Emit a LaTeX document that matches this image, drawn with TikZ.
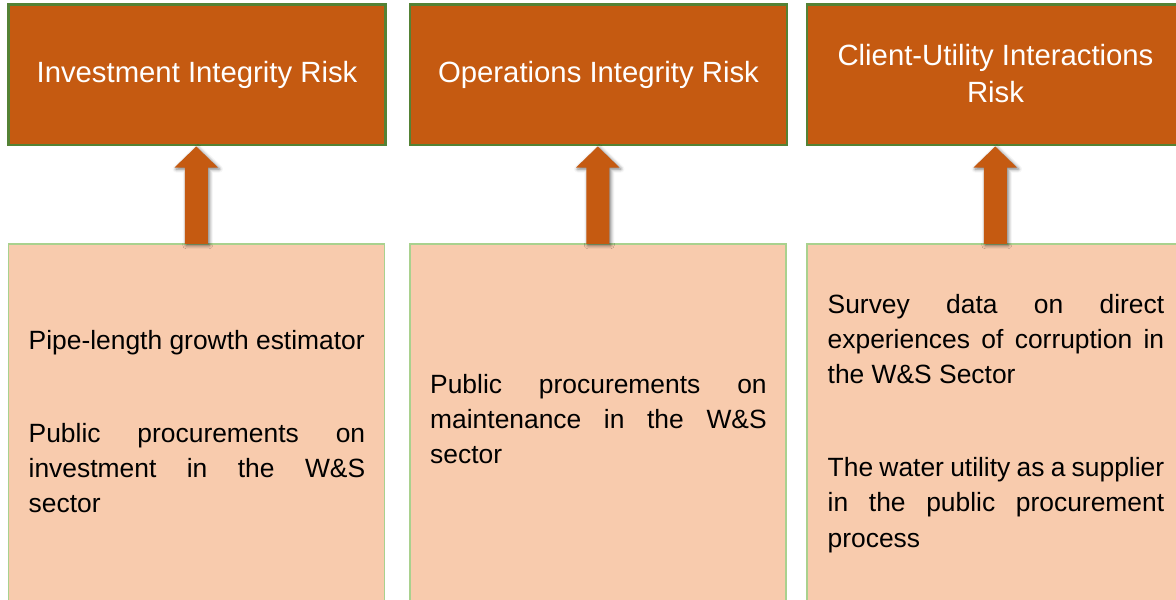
\documentclass[tikz,border=0pt]{standalone}
\usepackage{fontspec}
\setmainfont{Liberation Sans}
\usetikzlibrary{calc,shadows.blur}
\definecolor{riskorange}{HTML}{C55A11}
\definecolor{riskedge}{HTML}{548235}
\definecolor{srcfill}{HTML}{F8CBAD}
\definecolor{srcedge}{HTML}{A9D18E}
\setlength{\parindent}{0pt}
\hyphenpenalty=10000
\exhyphenpenalty=10000

\tikzset{
  riskbox/.style={draw=riskedge, line width=2.5pt, fill=riskorange,
    minimum width=377pt, minimum height=140.5pt, anchor=north west,
    inner sep=0pt, outer sep=0pt, text=white, align=center,
    font=\fontsize{29.3}{37}\selectfont},
  srcbox/.style={draw=srcedge, line width=1.5pt, fill=srcfill,
    minimum width=376pt, minimum height=400pt, anchor=north west,
    inner sep=0pt, outer sep=0pt},
  srctext/.style={text=black, font=\fontsize{26.4}{35.2}\selectfont,
    text width=336.5pt, align=justify, anchor=north west, inner sep=0pt},
  uparrow/.style={fill=riskorange,
    blur shadow={shadow xshift=1.5pt, shadow yshift=-1.5pt,
      shadow blur radius=3.5pt, shadow opacity=55}}
}

% block arrow from a source box up to its risk box
\newcommand\riskarrow[2]{%
  \path[uparrow] let \p1=(#1.north), \p2=(#2.south) in
    (\x1-11.5pt,\y1) -- (\x1-11.5pt,\y2-22.5pt) -- (\x1-21.7pt,\y2-22.5pt)
    -- (\x1,\y2-1.5pt) -- (\x1+21.7pt,\y2-22.5pt) -- (\x1+11.5pt,\y2-22.5pt)
    -- (\x1+11.5pt,\y1) -- cycle;}

\begin{document}
\begin{tikzpicture}[x=1pt,y=-1pt]
  \useasboundingbox (0,0) rectangle (1176,600);
  \clip (0,0) rectangle (1176,600);

  % risk categories
  \node[riskbox] (t1) at (8.5,4.5) {Investment Integrity Risk};
  \node[riskbox] (t2) at (410,4.5) {Operations Integrity Risk};
  \node[riskbox] (t3) at (807,4.5) {\raisebox{2pt}{Client-Utility Interactions}\\\raisebox{2pt}{Risk}};

  % data sources
  \node[srcbox] (b1) at (8.25,243.75) {};
  \node[srcbox] (b2) at (409.75,243.75) {};
  \node[srcbox, minimum width=377pt] (b3) at (806.75,243.75) {};

  \node[srctext] (s1) at (28.5,324.4) {\strut Pipe-length growth estimator\par
    \vspace{57.8pt}Public procurements on\linebreak investment in the W\&S\linebreak sector};
  \node[srctext] (s2) at (430,368.4) {\strut Public procurements on\linebreak
    maintenance in the W\&S\linebreak sector};
  \node[srctext] (s3) at (827.5,288.4) {\strut Survey data on direct\linebreak
    experiences of corruption in\linebreak the W\&S Sector\par
    \vspace{57.8pt}The water utility as a supplier\linebreak in the public procurement\linebreak process};

  % arrows
  \riskarrow{b1}{t1}
  \riskarrow{b2}{t2}
  \riskarrow{b3}{t3}
\end{tikzpicture}
\end{document}
